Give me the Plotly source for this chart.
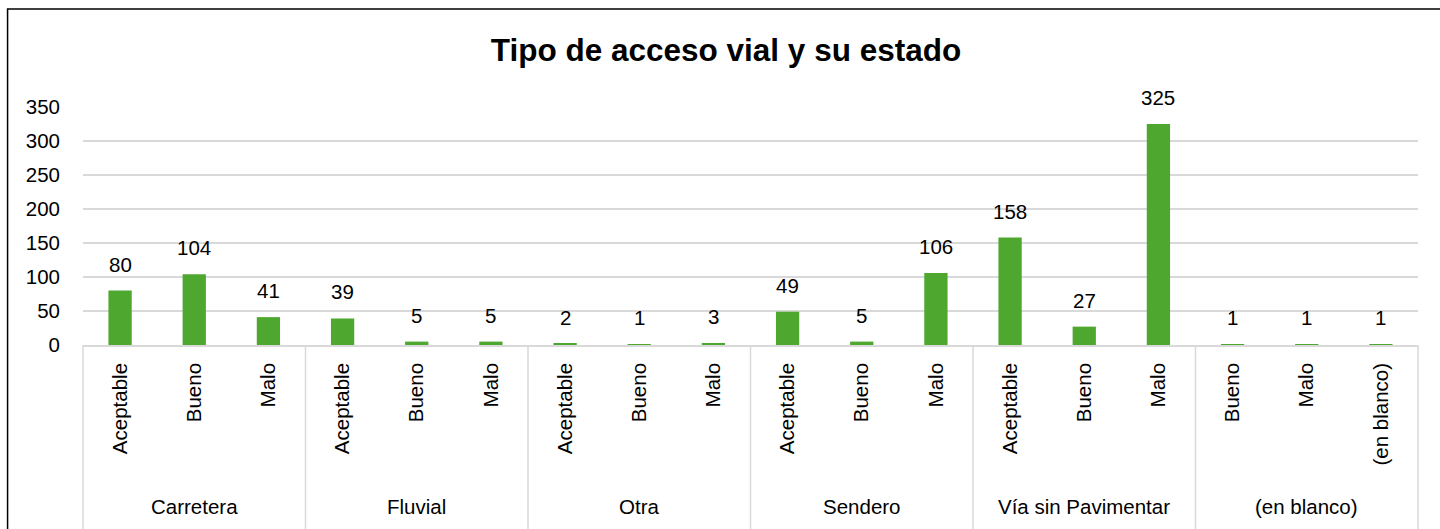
import plotly.graph_objects as go

groups = ["Carretera", "Fluvial", "Otra", "Sendero", "Vía sin Pavimentar", "(en blanco)"]
states = [
    ["Aceptable", "Bueno", "Malo"],
    ["Aceptable", "Bueno", "Malo"],
    ["Aceptable", "Bueno", "Malo"],
    ["Aceptable", "Bueno", "Malo"],
    ["Aceptable", "Bueno", "Malo"],
    ["Bueno", "Malo", "(en blanco)"],
]
values = [
    [80, 104, 41],
    [39, 5, 5],
    [2, 1, 3],
    [49, 5, 106],
    [158, 27, 325],
    [1, 1, 1],
]
title_text = "Tipo de acceso vial y su estado"

keys, ticktext, yvals = [], [], []
for g, sts, vals in zip(groups, states, values):
    for s, v in zip(sts, vals):
        keys.append(f"{g}|{s}")
        ticktext.append(s)
        yvals.append(v)

n = len(keys)
GREEN = "#4EA72E"
GRID = "#d9d9d9"
FONT = "Liberation Sans, Arial, sans-serif"

fig = go.Figure()
fig.add_trace(go.Bar(x=keys, y=yvals, marker=dict(color=GREEN, line=dict(width=0)),
                     hoverinfo="x+y"))

annotations = []
for k, v in zip(keys, yvals):
    annotations.append(dict(x=k, y=v, xref="x", yref="y", text=str(v), showarrow=False,
                            yanchor="bottom", yshift=13,
                            font=dict(family=FONT, size=20.5, color="#000000")))

shapes = []
start = 0
boundaries = [0]
for g, sts in zip(groups, states):
    center = (start + start + len(sts)) / 2 / n
    annotations.append(dict(x=center, y=-0.68, xref="paper", yref="paper", text=g,
                            showarrow=False, yanchor="middle", xanchor="center",
                            font=dict(family=FONT, size=20.5, color="#000000")))
    start += len(sts)
    boundaries.append(start)
for b in boundaries:
    shapes.append(dict(type="line", xref="paper", yref="paper", x0=b / n, x1=b / n,
                       y0=0, y1=-0.85, line=dict(color=GRID, width=1.5)))

# outer chart border
shapes.append(dict(type="rect", xref="paper", yref="paper", x0=-0.0565, x1=1.2,
                   y0=-1.2, y1=1.412, line=dict(color="#000000", width=1.5),
                   layer="below"))

fig.update_layout(
    width=1440, height=529,
    margin=dict(l=83, r=22, t=107, b=184),
    paper_bgcolor="white", plot_bgcolor="white",
    showlegend=False,
    bargap=0.686,
    title=dict(text=f"<b>{title_text}</b>", x=726 / 1440, xref="container", xanchor="center",
               y=1 - 50 / 529, yref="container", yanchor="middle",
               font=dict(family=FONT, size=31.5, color="#000000")),
    annotations=annotations,
    shapes=shapes,
    font=dict(family=FONT, color="#000000"),
)
fig.update_xaxes(
    type="category", tickmode="array", tickvals=keys, ticktext=ticktext,
    tickangle=-90, tickfont=dict(family=FONT, size=20.5, color="#000000"),
    showline=True, linecolor=GRID, linewidth=1.5, showgrid=False, ticks="",
    ticklabelstandoff=8, range=[-0.5, n - 0.5], fixedrange=True,
)
fig.update_yaxes(
    range=[0, 350], dtick=50, tick0=0, showgrid=True, gridcolor=GRID, gridwidth=1.5,
    zeroline=False, showline=False, ticks="",
    tickfont=dict(family=FONT, size=20.5, color="#000000"),
    ticklabelstandoff=22, fixedrange=True,
)

fig.write_html("out.html", config={"displayModeBar": False},
               post_script="document.body.style.margin='0';document.body.style.overflow='hidden';")
